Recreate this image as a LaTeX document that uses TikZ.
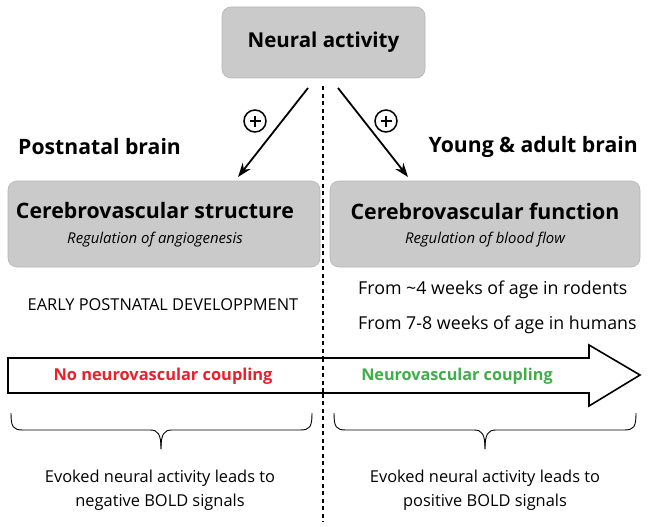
\documentclass[tikz,border=0pt]{standalone}
\usepackage{fontspec}
\setmainfont{Open Sans}
\usetikzlibrary{arrows.meta}
\definecolor{boxgray}{HTML}{CACACA}
\definecolor{boxline}{HTML}{B4B4B4}
\definecolor{nored}{HTML}{E8212B}
\definecolor{okgreen}{HTML}{3FAE49}
\begin{document}
\begin{tikzpicture}[x=1pt,y=-1pt,
  graybox/.style={draw=boxline,fill=boxgray,rounded corners=9pt,line width=0.6pt},
  arr/.style={line width=1.8pt,-{Stealth[length=14pt,width=10pt]}},
  plus/.style={circle,draw,line width=1.5pt,inner sep=0pt,minimum size=22pt},
  head/.style={font=\bfseries\fontsize{21.2}{26}\selectfont},
  brace/.style={line width=0.9pt},
  txt/.style={font=\fontsize{16.4}{24}\selectfont,align=center}]
\useasboundingbox (0,0) rectangle (648,527);
% top box
\node[graybox,minimum width=203pt,minimum height=71pt] (na) at (323.5,42.5) {};
\node[font=\bfseries\fontsize{20.5}{26}\selectfont] (nat) at (323.5,42.5) {Neural activity};
% dashed divider
\coordinate (d1) at (323,86);
\coordinate (d2) at (323,522);
\draw[line width=1.6pt,dash pattern=on 4pt off 3.5pt] (d1) -- (d2);
% arrows
\coordinate (s1) at (308,88);
\coordinate (e1) at (238,177);
\coordinate (s2) at (338,88);
\coordinate (e2) at (408,177);
\draw[arr] (s1) -- (e1);
\draw[arr] (s2) -- (e2);
\node[plus] (p1) at (255,121) {};
\node[plus] (p2) at (386,121) {};
\foreach \p in {p1,p2}{
  \draw[line width=2.8pt] ([xshift=-5.5pt]\p.center) -- ([xshift=5.5pt]\p.center);
  \draw[line width=2.8pt] ([yshift=-5.5pt]\p.center) -- ([yshift=5.5pt]\p.center);
}
% headings
\node[head,anchor=west,inner sep=0pt] (pb) at (18,147) {Postnatal brain};
\node[head,anchor=east,inner sep=0pt] (yb) at (638,147) {Young \& adult brain};
% boxes
\node[graybox,minimum width=312pt,minimum height=86pt] (cs) at (164,224) {};
\node[font=\bfseries\fontsize{21.3}{26}\selectfont] (cst) at (155,211) {Cerebrovascular structure};
\node[font=\itshape\fontsize{14.9}{18}\selectfont] (css) at (155,240) {Regulation of angiogenesis};
\node[graybox,minimum width=310pt,minimum height=86pt] (cf) at (485,224) {};
\node[font=\bfseries\fontsize{21.3}{26}\selectfont] (cft) at (485,211) {Cerebrovascular function};
\node[font=\itshape\fontsize{14.9}{18}\selectfont] (cfs) at (485,240) {Regulation of blood flow};
% middle texts
\node[font=\fontsize{16.4}{18}\selectfont] (ep) at (163,305) {EARLY POSTNATAL DEVELOPPMENT};
\node[font=\fontsize{17.8}{18}\selectfont,anchor=west,inner sep=0pt] (r1) at (358,290) {From \textasciitilde 4 weeks of age in rodents};
\node[font=\fontsize{17.8}{18}\selectfont,anchor=west,inner sep=0pt] (r2) at (358,325) {From 7-8 weeks of age in humans};
% big arrow
\draw[line width=1.6pt,fill=white,line join=miter] (8,358) -- (589,358) -- (589,345) -- (640,375) -- (589,406) -- (589,393) -- (8,393) -- cycle;
\draw[line width=1.6pt,dash pattern=on 4pt off 3.5pt] (323,358) -- (323,393);
\node[font=\bfseries\fontsize{16.4}{18}\selectfont,text=nored] (nc) at (163,376) {No neurovascular coupling};
\node[font=\bfseries\fontsize{16.2}{18}\selectfont,text=okgreen] (yc) at (457,376) {Neurovascular coupling};
% braces
\draw[brace] (11,413) .. controls (11,427) and (13,430) .. (23,430) -- (150,430) .. controls (158,430) and (161,434) .. (161,449);
\draw[brace] (312,413) .. controls (312,427) and (310,430) .. (300,430) -- (172,430) .. controls (164,430) and (161,434) .. (161,449);
\draw[brace] (334,413) .. controls (334,427) and (336,430) .. (346,430) -- (474,430) .. controls (482,430) and (485,434) .. (485,449);
\draw[brace] (636,413) .. controls (636,427) and (634,430) .. (624,430) -- (496,430) .. controls (488,430) and (485,434) .. (485,449);
% bottom texts
\node[txt] (bl) at (160,490) {Evoked neural activity leads to\\negative BOLD signals};
\node[txt] (br) at (485,490) {Evoked neural activity leads to\\positive BOLD signals};
\end{tikzpicture}
\end{document}
